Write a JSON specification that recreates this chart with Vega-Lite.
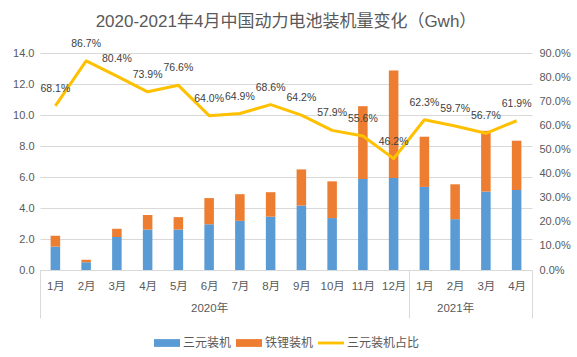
{
  "$schema": "https://vega.github.io/schema/vega-lite/v6.json",
  "width": 492,
  "height": 217,
  "autosize": {"type": "none"},
  "padding": {"left": 40, "top": 53, "right": 45, "bottom": 87},
  "title": {
    "text": "2020-2021年4月中国动力电池装机量变化（Gwh）",
    "fontSize": 17,
    "fontWeight": "normal",
    "color": "#595959",
    "font": "Liberation Sans, Noto Sans CJK SC",
    "anchor": "middle",
    "offset": 8
  },
  "config": {
    "view": {"stroke": null},
    "font": "Liberation Sans, Noto Sans CJK SC",
    "axis": {"labelFont": "Liberation Sans, Noto Sans CJK SC", "labelColor": "#595959"},
    "axisLeft": {"grid": true, "gridColor": "#D9D9D9"},
    "legend": {"labelFont": "Liberation Sans, Noto Sans CJK SC"}
  },
  "data": {
    "values": [
      {"period": "2020-1月", "ternary": 1.51, "total": 2.21, "share": 0.681},
      {"period": "2020-2月", "ternary": 0.50, "total": 0.66, "share": 0.867},
      {"period": "2020-3月", "ternary": 2.13, "total": 2.66, "share": 0.804},
      {"period": "2020-4月", "ternary": 2.61, "total": 3.55, "share": 0.739},
      {"period": "2020-5月", "ternary": 2.61, "total": 3.41, "share": 0.766},
      {"period": "2020-6月", "ternary": 2.95, "total": 4.64, "share": 0.640},
      {"period": "2020-7月", "ternary": 3.17, "total": 4.89, "share": 0.649},
      {"period": "2020-8月", "ternary": 3.44, "total": 5.02, "share": 0.686},
      {"period": "2020-9月", "ternary": 4.16, "total": 6.49, "share": 0.642},
      {"period": "2020-10月", "ternary": 3.35, "total": 5.72, "share": 0.579},
      {"period": "2020-11月", "ternary": 5.87, "total": 10.57, "share": 0.556},
      {"period": "2020-12月", "ternary": 5.94, "total": 12.87, "share": 0.462},
      {"period": "2021-1月", "ternary": 5.36, "total": 8.60, "share": 0.623},
      {"period": "2021-2月", "ternary": 3.28, "total": 5.53, "share": 0.597},
      {"period": "2021-3月", "ternary": 5.06, "total": 8.98, "share": 0.567},
      {"period": "2021-4月", "ternary": 5.16, "total": 8.34, "share": 0.619}
    ]
  },
  "encoding": {
    "x": {
      "field": "period", "type": "nominal", "sort": null,
      "scale": {"type": "band", "paddingInner": 0, "paddingOuter": 0},
      "axis": {
        "orient": "bottom", "title": null, "ticks": true, "tickBand": "extent", "tickSize": 48,
        "tickColor": "#D9D9D9",
        "tickOpacity": {"condition": {"test": "datum.value == '2020-12月' || datum.value == '2021-4月' || datum.extra", "value": 1}, "value": 0},
        "domainColor": "#D9D9D9",
        "labelExpr": "datum.value == '2020-6月' ? ['6月', '\u00a0\u00a0\u00a0\u00a0\u00a02020年'] : datum.value == '2021-2月' ? ['2月', '\u00a0\u00a0\u00a0\u00a0\u00a02021年'] : split(datum.value, '-')[1]",
        "labelLineHeight": 22.5, "labelPadding": -38, "labelFontSize": 11.5, "labelAngle": 0,
        "labelColor": "#595959", "labelOverlap": false, "labelBound": false, "labelFlush": false
      }
    }
  },
  "layer": [
    {
      "layer": [
        {
          "mark": {"type": "bar", "color": "#5B9BD5", "width": {"band": 0.31}},
          "encoding": {
            "y": {
              "field": "ternary", "type": "quantitative",
              "scale": {"domain": [0, 14], "nice": false},
              "axis": {
                "orient": "left", "title": null, "values": [0, 2, 4, 6, 8, 10, 12, 14],
                "format": ".1f", "grid": true, "gridColor": "#D9D9D9", "gridOpacity": 1, "gridWidth": 1,
                "domain": false, "ticks": false, "labelPadding": 6, "labelFontSize": 11, "labelOverlap": false,
                "zindex": 0
              }
            }
          }
        },
        {
          "mark": {"type": "bar", "color": "#ED7D31", "width": {"band": 0.31}},
          "encoding": {
            "y": {
              "field": "ternary", "type": "quantitative",
              "scale": {"domain": [0, 14], "nice": false},
              "axis": {
                "orient": "left", "title": null, "values": [0, 2, 4, 6, 8, 10, 12, 14],
                "format": ".1f", "grid": true, "gridColor": "#D9D9D9", "gridOpacity": 1, "gridWidth": 1,
                "domain": false, "ticks": false, "labelPadding": 6, "labelFontSize": 11, "labelOverlap": false,
                "zindex": 0
              }
            },
            "y2": {"field": "total"}
          }
        }
      ]
    },
    {
      "layer": [
        {
          "mark": {"type": "line", "color": "#FFC000", "strokeWidth": 3, "strokeJoin": "round"},
          "encoding": {
            "y": {
              "field": "share", "type": "quantitative",
              "scale": {"domain": [0, 0.9], "nice": false},
              "axis": {
                "orient": "right", "title": null, "format": ".1%",
                "values": [0, 0.1, 0.2, 0.3, 0.4, 0.5, 0.6, 0.7, 0.8, 0.9],
                "grid": false, "ticks": false, "domain": false, "labelPadding": 7, "labelFontSize": 11,
                "labelOverlap": false
              }
            }
          }
        },
        {
          "mark": {"type": "text", "dy": -17, "fontSize": 10.5, "color": "#404040"},
          "encoding": {
            "y": {
              "field": "share", "type": "quantitative",
              "scale": {"domain": [0, 0.9], "nice": false},
              "axis": {
                "orient": "right", "title": null, "format": ".1%",
                "values": [0, 0.1, 0.2, 0.3, 0.4, 0.5, 0.6, 0.7, 0.8, 0.9],
                "grid": false, "ticks": false, "domain": false, "labelPadding": 7, "labelFontSize": 11,
                "labelOverlap": false
              }
            },
            "text": {"field": "share", "type": "quantitative", "format": ".1%"}
          }
        }
      ]
    },
    {
      "transform": [{"filter": "false"}],
      "mark": {"type": "point", "filled": true, "opacity": 1},
      "encoding": {
        "color": {
          "field": "series", "type": "nominal",
          "scale": {"domain": ["三元装机", "铁锂装机", "三元装机占比"], "range": ["#5B9BD5", "#ED7D31", "#FFC000"]},
          "legend": {
            "title": null, "orient": "none", "legendX": 114, "legendY": 277, "direction": "horizontal", "symbolSize": 676,
            "labelFontSize": 12, "labelColor": "#595959", "labelOffset": 3, "columnPadding": 4,
            "symbolStrokeWidth": 0
          }
        },
        "shape": {
          "field": "series", "type": "nominal",
          "scale": {"domain": ["三元装机", "铁锂装机", "三元装机占比"], "range": ["M-1,-0.3H1V0.3H-1Z", "M-1,-0.3H1V0.3H-1Z", "M-1,-0.11H1V0.11H-1Z"]},
          "legend": {
            "title": null, "orient": "none", "legendX": 114, "legendY": 277, "direction": "horizontal", "symbolSize": 676,
            "labelFontSize": 12, "labelColor": "#595959", "labelOffset": 3, "columnPadding": 4,
            "symbolStrokeWidth": 0
          }
        }
      }
    }
  ],
  "resolve": {"scale": {"y": "independent"}}
}
